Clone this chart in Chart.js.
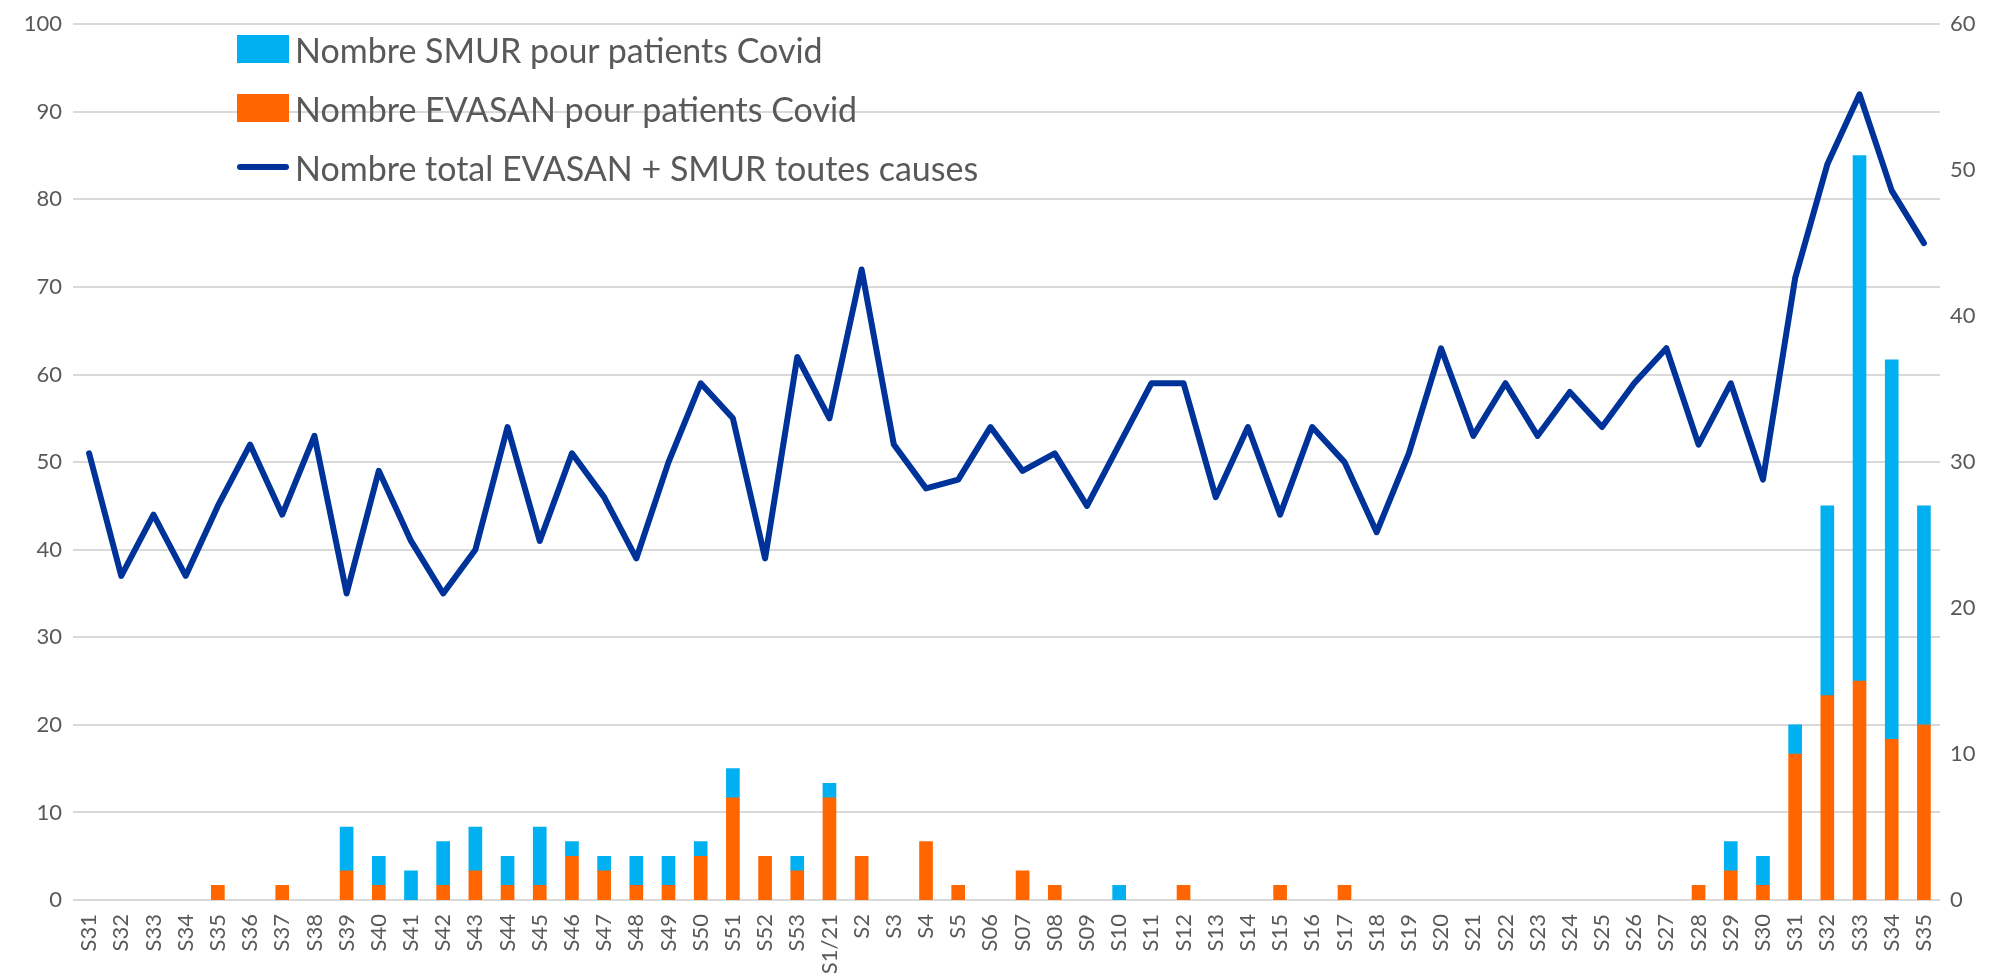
<!DOCTYPE html>
<html>
<head>
<meta charset="utf-8">
<script src="https://cdn.jsdelivr.net/npm/chart.js@4.4.1/dist/chart.umd.min.js"></script>
<style>
  body { margin: 0; background: #fff; }
  #wrap { position: relative; width: 2012px; height: 973px; }
  #legend { position: absolute; left: 237px; top: 35px; font-family: Lato, sans-serif; font-size: 34px; color: #595959; }
  .item { display: flex; align-items: center; height: 28px; margin-bottom: 31px; white-space: nowrap; }
  .box { width: 52px; height: 28px; margin-right: 6px; }
  .line { width: 52px; height: 6px; border-radius: 3px; margin-right: 6px; }
</style>
</head>
<body>
<div id="wrap">
  <canvas id="chart" width="2012" height="973"></canvas>
  <div id="legend"></div>
</div>
<script>
'use strict';
// weeks (x categories)
var weeks = ['S31', 'S32', 'S33', 'S34', 'S35', 'S36', 'S37', 'S38', 'S39', 'S40', 'S41', 'S42', 'S43', 'S44',
  'S45', 'S46', 'S47', 'S48', 'S49', 'S50', 'S51', 'S52', 'S53', 'S1/21', 'S2', 'S3', 'S4', 'S5',
  'S06', 'S07', 'S08', 'S09', 'S10', 'S11', 'S12', 'S13', 'S14', 'S15', 'S16', 'S17', 'S18', 'S19',
  'S20', 'S21', 'S22', 'S23', 'S24', 'S25', 'S26', 'S27', 'S28', 'S29', 'S30', 'S31', 'S32', 'S33',
  'S34', 'S35'];

// covid SMUR (blue, right axis)
var smurCovid = [0, 0, 0, 0, 0, 0, 0, 0, 3, 2, 2, 3, 3, 2, 4, 1, 1, 2, 2, 1, 2, 0, 1, 1, 0, 0, 0, 0,
  0, 0, 0, 0, 1, 0, 0, 0, 0, 0, 0, 0, 0, 0, 0, 0, 0, 0, 0, 0, 0, 0, 0, 2, 2, 2, 13, 36, 26, 15];

// covid EVASAN (orange, right axis)
var evasanCovid = [0, 0, 0, 0, 1, 0, 1, 0, 2, 1, 0, 1, 2, 1, 1, 3, 2, 1, 1, 3, 7, 3, 2, 7, 3, 0, 4, 1,
  0, 2, 1, 0, 0, 0, 1, 0, 0, 1, 0, 1, 0, 0, 0, 0, 0, 0, 0, 0, 0, 0, 1, 2, 1, 10, 14, 15, 11, 12];

// total EVASAN + SMUR all causes (line, left axis)
var totalAll = [51, 37, 44, 37, 45, 52, 44, 53, 35, 49, 41, 35, 40, 54, 41, 51, 46, 39, 50, 59, 55, 39, 62,
  55, 72, 52, 47, 48, 54, 49, 51, 45, 52, 59, 59, 46, 54, 44, 54, 50, 42, 51, 63, 53, 59, 53, 58, 54,
  59, 63, 52, 59, 48, 71, 84, 92, 81, 75];

var leftTicks = { min: 0, max: 100, step: 10 };
var rightTicks = { min: 0, max: 60, step: 10 };

var labels = ['Nombre SMUR pour patients Covid', 'Nombre EVASAN pour patients Covid', 'Nombre total EVASAN + SMUR toutes causes'];
var colors = ['#00B0F0', '#FF6600', '#003399'];

var tickFont = { family: 'Lato', size: 22 };
var grey = '#595959';

// empty weeks draw no bar at all
function noZero(arr) {
  return arr.map(function (v) { return v === 0 ? null : v; });
}

var ctx = document.getElementById('chart').getContext('2d');
new Chart(ctx, {
  type: 'bar',
  data: {
    labels: weeks,
    datasets: [{
      type: 'line',
      label: labels[2],
      data: totalAll,
      yAxisID: 'y',
      borderColor: colors[2],
      backgroundColor: colors[2],
      borderWidth: 6,
      pointRadius: 0,
      tension: 0,
      borderJoinStyle: 'round',
      borderCapStyle: 'round',
      order: 0
    }, {
      label: labels[1],
      data: noZero(evasanCovid),
      yAxisID: 'y1',
      backgroundColor: colors[1],
      barThickness: 13,
      order: 1
    }, {
      label: labels[0],
      data: noZero(smurCovid),
      yAxisID: 'y1',
      backgroundColor: colors[0],
      barThickness: 13,
      order: 1
    }]
  },
  options: {
    responsive: false,
    animation: false,
    layout: { padding: { top: 20, left: 0, right: 0, bottom: 0 } },
    plugins: { legend: { display: false }, tooltip: { enabled: false } },
    scales: {
      x: {
        stacked: true,
        grid: { display: false, drawTicks: false },
        border: { display: false },
        ticks: { autoSkip: false, minRotation: 90, maxRotation: 90, padding: 14, color: grey, font: tickFont },
        afterFit: function (scale) { scale.height = 73; }
      },
      y: {
        position: 'left',
        min: leftTicks.min,
        max: leftTicks.max,
        grid: { color: '#D9D9D9', lineWidth: 2, drawTicks: false },
        border: { display: false },
        ticks: { stepSize: leftTicks.step, padding: 11, color: grey, font: tickFont },
        afterFit: function (scale) { scale.width = 73; }
      },
      y1: {
        position: 'right',
        stacked: true,
        min: rightTicks.min,
        max: rightTicks.max,
        grid: { display: false, drawTicks: false },
        border: { display: false },
        ticks: { stepSize: rightTicks.step, padding: 10, color: grey, font: tickFont },
        afterFit: function (scale) { scale.width = 72; }
      }
    }
  }
});

// legend drawn as html over the plot
var legend = document.getElementById('legend');
for (var i = 0; i < labels.length; i++) {
  var item = document.createElement('div');
  item.className = 'item';
  var mark = document.createElement('span');
  mark.className = i < 2 ? 'box' : 'line';
  mark.style.background = colors[i];
  var txt = document.createElement('span');
  txt.textContent = labels[i];
  item.append(mark, txt);
  legend.append(item);
}
</script>
</body>
</html>
